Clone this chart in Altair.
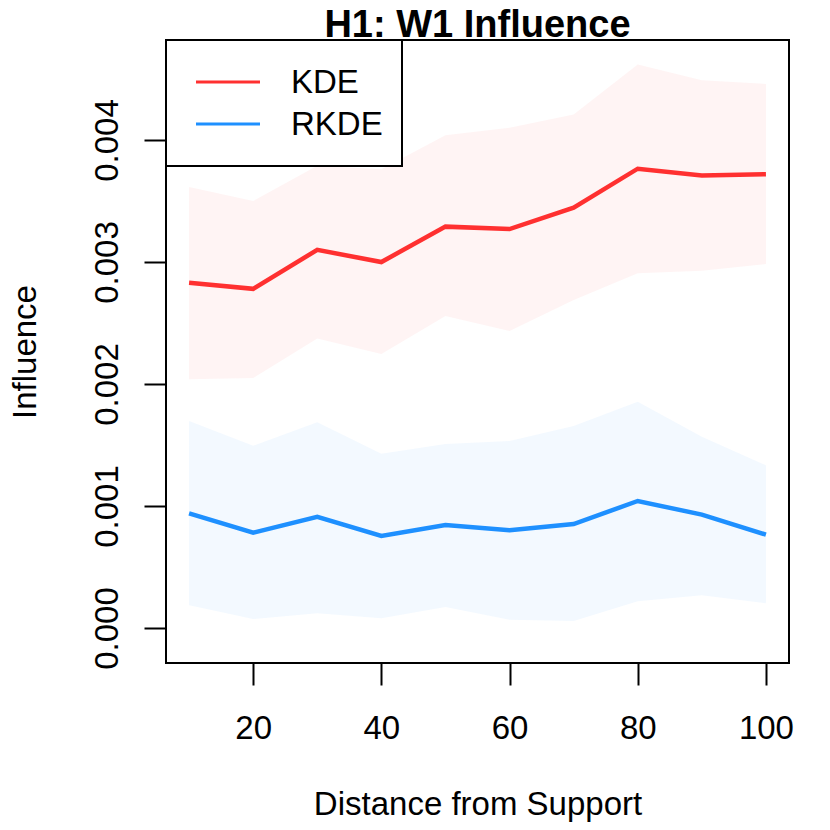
import altair as alt
import pandas as pd

distance = [10, 20, 30, 40, 50, 60, 70, 80, 90, 100]
kde_mean = [0.00283, 0.00278, 0.00310, 0.00300, 0.00329, 0.00327, 0.003445, 0.003765, 0.00371, 0.00372]
kde_upper = [0.003615, 0.00350, 0.00379, 0.00376, 0.00404, 0.00410, 0.00421, 0.00462, 0.00449, 0.00446]
kde_lower = [0.00204, 0.00205, 0.002374, 0.002246, 0.002557, 0.002434, 0.002689, 0.002907, 0.002929, 0.002984]
rkde_mean = [0.00094, 0.000781, 0.000912, 0.000754, 0.000844, 0.000801, 0.000852, 0.001041, 0.000929, 0.000765]
rkde_upper = [0.001697, 0.001494, 0.001686, 0.001429, 0.001508, 0.001533, 0.001656, 0.001855, 0.001568, 0.001334]
rkde_lower = [0.000186, 0.000074, 0.00012, 0.000079, 0.000172, 0.000068, 0.000057, 0.000219, 0.000268, 0.000202]

series = ["KDE", "RKDE"]
colors = ["#FF3030", "#1E90FF"]
x_ticks = [20, 40, 60, 80, 100]
y_ticks = [0.000, 0.001, 0.002, 0.003, 0.004]
title_text = "H1: W1 Influence"

rows = []
for name, m, lo, hi in [("KDE", kde_mean, kde_lower, kde_upper),
                        ("RKDE", rkde_mean, rkde_lower, rkde_upper)]:
    for d, a, b, c in zip(distance, m, lo, hi):
        rows.append({"series": name, "distance": d, "mean": a, "lower": b, "upper": c})
df = pd.DataFrame(rows)

FONT = "Liberation Sans"
W = 623
H = 623
x_scale = alt.Scale(domain=[6.4, 103.6], nice=False, zero=False)
y_scale = alt.Scale(domain=[-0.000287, 0.00482], nice=False, zero=False)
color_scale = alt.Scale(domain=series, range=colors)

x_enc = alt.X("distance:Q", scale=x_scale,
              axis=alt.Axis(values=x_ticks, title="Distance from Support", grid=False,
                            domain=False, tickSize=22, tickWidth=2, tickColor="black",
                            labelFontSize=33, labelColor="black", labelFont=FONT,
                            labelPadding=53, labelBaseline="alphabetic", labelFlush=False,
                            labelOverlap=False,
                            titleFontSize=33, titleFont=FONT, titleFontWeight="normal",
                            titleColor="black", titleY=151, titleBaseline="alphabetic"))

bands = alt.Chart(df).mark_area(opacity=0.055).encode(
    x=x_enc,
    y=alt.Y("lower:Q", scale=y_scale,
            axis=alt.Axis(values=y_ticks, format=".3f", title="Influence", grid=False,
                          domain=False, tickSize=22, tickWidth=2, tickColor="black",
                          labelFontSize=33, labelColor="black", labelFont=FONT,
                          labelAngle=270, labelAlign="center", labelBaseline="alphabetic",
                          labelPadding=27, labelFlush=False, labelOverlap=False,
                          titleFontSize=33, titleFont=FONT, titleFontWeight="normal",
                          titleColor="black", titleAngle=270, titleX=-131,
                          titleBaseline="alphabetic")),
    y2="upper:Q",
    fill=alt.Color("series:N", scale=color_scale, legend=None),
    detail="series:N",
)

lines = alt.Chart(df).mark_line(strokeWidth=4.5).encode(
    x=alt.X("distance:Q", scale=x_scale),
    y=alt.Y("mean:Q", scale=y_scale),
    color=alt.Color("series:N", scale=color_scale, legend=None),
)

one = pd.DataFrame({"a": [0]})

legend_box = alt.Chart(one).mark_rect(
    fill="white", stroke="black", strokeWidth=2
).encode(x=alt.value(0), x2=alt.value(236), y=alt.value(0), y2=alt.value(126))

legend_layers = [legend_box]
for i, (name, col) in enumerate(zip(series, colors)):
    ypos = 42 + 42 * i
    legend_layers.append(
        alt.Chart(one).mark_rule(color=col, strokeWidth=3).encode(
            x=alt.value(30), x2=alt.value(94), y=alt.value(ypos))
    )
    legend_layers.append(
        alt.Chart(one).mark_text(
            text=name, align="left", baseline="middle", fontSize=33, font=FONT, color="black"
        ).encode(x=alt.value(125), y=alt.value(ypos + 1))
    )

title_layer = alt.Chart(one).mark_text(
    text=title_text, align="center", baseline="alphabetic", fontSize=38,
    fontWeight="bold", font=FONT, color="black"
).encode(x=alt.value(W / 2), y=alt.value(-3))

chart = alt.layer(bands, lines, *legend_layers, title_layer).properties(
    width=W,
    height=H,
    autosize=alt.AutoSizeParams(type="none"),
    padding={"left": 158, "top": 32, "right": 25, "bottom": 160},
).configure(
    background="white",
    view=alt.ViewConfig(stroke="black", strokeWidth=2),
)

chart.save("out.html", embed_options={"renderer": "svg", "actions": False})
